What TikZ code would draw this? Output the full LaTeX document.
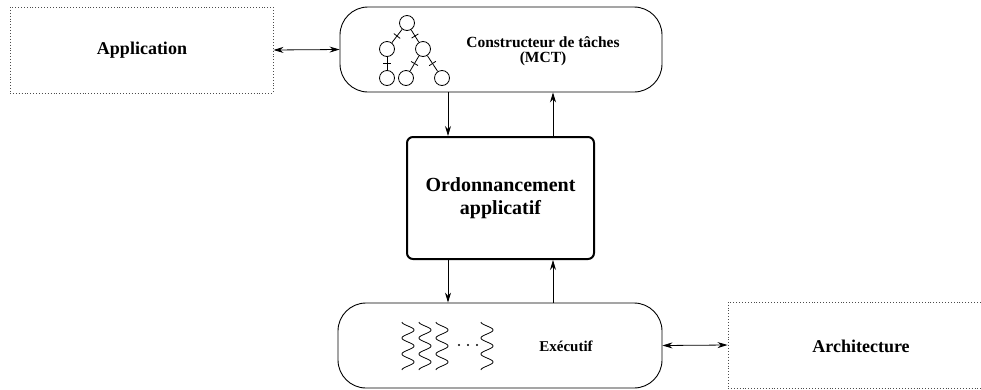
\documentclass[tikz,border=0pt]{standalone}
\usepackage{fontspec}
\setmainfont{Liberation Serif}
\usetikzlibrary{arrows.meta,decorations.markings}
\begin{document}
\begin{tikzpicture}[x=1pt,y=-1pt,
  every node/.style={font=\bfseries},
  dotbox/.style={draw=black!70, dotted, line width=0.9pt, rectangle, inner sep=0pt},
  roundbox/.style={draw, line width=0.9pt, rectangle, rounded corners=28pt, inner sep=0pt},
  mainbox/.style={draw, line width=2pt, rectangle, rounded corners=6pt, inner sep=0pt},
  link/.style={line width=0.8pt, -{Stealth[length=10pt,width=6pt]}},
  dlink/.style={line width=0.8pt, {Stealth[length=10pt,width=6pt]}-{Stealth[length=10pt,width=6pt]}},
  tnode/.style={draw, circle, line width=0.8pt, minimum size=15pt, inner sep=0pt},
  tickedge/.style={line width=0.8pt, postaction={decorate}, decoration={markings, mark=at position 0.5 with {\draw[line width=0.8pt] (0pt,-4pt) -- (0pt,4pt);}}},
  wave/.style={line width=0.8pt}
]
\useasboundingbox (0,0) rectangle (981,389);
\begin{scope}
\clip (0,0) rectangle (981,389);
% boxes
\node[dotbox, minimum width=263pt, minimum height=86pt] (app) at (141.5,50) {};
\node[font=\fontsize{18}{21}\bfseries\selectfont] (apptxt) at (142,50) {Application};
\node[roundbox, minimum width=322pt, minimum height=85pt] (top) at (501,49.5) {};
\node[mainbox, minimum width=187pt, minimum height=122pt] (mid) at (500.5,198) {};
\node[font=\fontsize{20}{23}\bfseries\selectfont, align=center] (midtxt) at (500.5,198) {Ordonnancement\\applicatif};
\node[roundbox, minimum width=324pt, minimum height=85pt] (bot) at (500,345.5) {};
\node[dotbox, minimum width=266pt, minimum height=86pt] (arch) at (861,345) {};
\node[font=\fontsize{18}{21}\bfseries\selectfont] (archtxt) at (861,346) {Architecture};
\node[font=\fontsize{15.5}{15}\bfseries\selectfont, align=center] (mcttxt) at (543,51) {Constructeur de tâches\\(MCT)};
\node[font=\fontsize{15}{17}\bfseries\selectfont] (exetxt) at (566,346) {Exécutif};
% connectors
\draw[dlink] (app.east) -- (top.west);
\draw[dlink] (bot.east) -- (arch.west);
\draw[link] ([xshift=-53pt]top.south) -- ([xshift=-53pt]top.south |- mid.north);
\draw[link] ([xshift=52pt]top.south |- mid.north) -- ([xshift=52pt]top.south);
\draw[link] ([xshift=-52pt]bot.north |- mid.south) -- ([xshift=-52pt]bot.north);
\draw[link] ([xshift=53pt]bot.north) -- ([xshift=53pt]bot.north |- mid.south);
% tree
\node[tnode] (r) at (407,23) {};
\node[tnode] (a) at (387,49) {};
\node[tnode] (b) at (423,49) {};
\node[tnode] (c) at (387,78) {};
\node[tnode] (d) at (406,78) {};
\node[tnode] (e) at (442,78) {};
\draw[tickedge] (r) -- (a);
\draw[tickedge] (r) -- (b);
\draw[tickedge] (a) -- (c);
\draw[tickedge] (b) -- (d);
\draw[tickedge] (b) -- (e);
% waves
\foreach \cx in {408,425,442,487} {
  \draw[wave] plot[domain=0:48, samples=97, smooth] ({\cx-6*cos(\x*22.5)},{322+\x});
}
\foreach \dx in {459,468,477} {
  \fill (\dx,345) circle (1.1pt);
}
\end{scope}
\end{tikzpicture}
\end{document}
